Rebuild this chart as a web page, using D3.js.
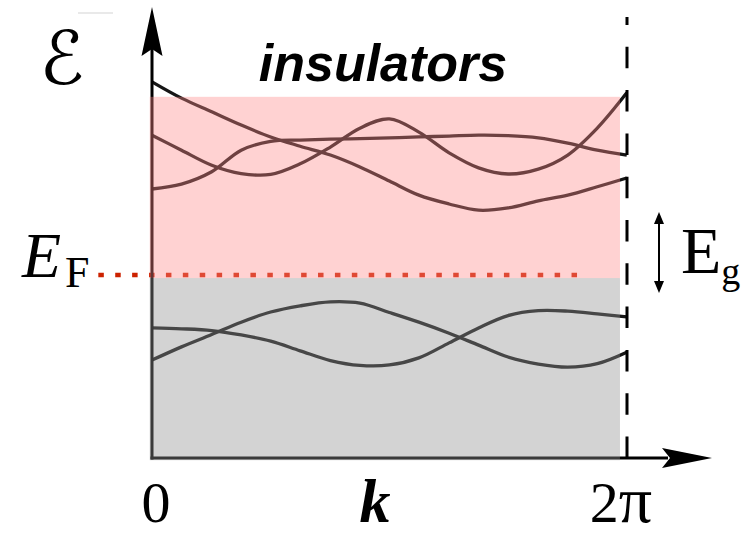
<!DOCTYPE html>
<html>
<head>
<meta charset="utf-8">
<style>
    body { margin: 0; background: #fff; }
    svg { display: block; }
</style>
</head>
<body>
<svg width="755" height="536"></svg>
<script src="https://d3js.org/d3.v7.min.js"></script>
<script>
// k points across the Brillouin zone (0 .. 2pi)
let kValues = [0, 0.39, 0.79, 1.18, 1.57, 1.96, 2.36, 2.75, 3.14, 3.53, 3.93, 4.32, 4.71, 5.11, 5.50, 5.89, 6.28];

// conduction bands (above the gap)
let bandA = [8.53, 8.16, 7.85, 7.55, 7.28, 7.07, 6.87, 6.60, 6.28, 5.96, 5.76, 5.62, 5.67, 5.83, 5.96, 6.15, 6.35];
let bandB = [7.32, 6.98, 6.64, 6.45, 6.43, 6.67, 7.05, 7.48, 7.69, 7.39, 6.92, 6.58, 6.44, 6.55, 6.87, 7.48, 8.28];
let bandC = [6.10, 6.21, 6.49, 6.98, 7.18, 7.21, 7.23, 7.24, 7.26, 7.28, 7.30, 7.32, 7.31, 7.26, 7.14, 6.98, 6.87];

// valence bands (below the gap)
let bandD = [2.95, 2.93, 2.89, 2.79, 2.65, 2.43, 2.21, 2.10, 2.11, 2.27, 2.61, 2.95, 3.23, 3.34, 3.33, 3.27, 3.20];
let bandE = [2.22, 2.52, 2.80, 3.08, 3.31, 3.45, 3.54, 3.51, 3.30, 3.08, 2.83, 2.56, 2.29, 2.13, 2.06, 2.14, 2.40];

let conductionBands = [bandA, bandB, bandC];
let valenceBands = [bandD, bandE];

let fermiLevel = 4.15;
let conductionWindow = [4.08, 8.19];
let valenceWindow = [-0.05, 4.08];
let gapArrow = [3.74, 5.58];
let shadeK = [-0.03, 6.19];
let fermiK = [-0.71, 5.77];

let svg = d3.select("svg");

let x = d3.scaleLinear().domain([0, 2 * Math.PI]).range([152, 627]);
let y = d3.scaleLinear().domain([0, 10]).range([458, 17]);

let line = d3.line()
    .x((d, i) => x(kValues[i]))
    .y(d => y(d))
    .curve(d3.curveCatmullRom.alpha(0.5));

// stray mark at top left
svg.append("line")
    .attr("x1", 78).attr("x2", 113).attr("y1", 13).attr("y2", 13)
    .attr("stroke", "#e2e2e2").attr("stroke-width", 1.5);

// Fermi level dots
svg.append("line")
    .attr("x1", x(fermiK[0])).attr("x2", x(fermiK[1]))
    .attr("y1", y(fermiLevel)).attr("y2", y(fermiLevel))
    .attr("stroke", "#cc2200")
    .attr("stroke-width", 4.5)
    .attr("stroke-dasharray", "5.5,11.4");

// bands
svg.append("g")
    .selectAll("path")
    .data(conductionBands.concat(valenceBands))
    .join("path")
    .attr("d", line)
    .attr("fill", "none")
    .attr("stroke", "#161616")
    .attr("stroke-width", 3.3);

// axes lines
svg.append("line")
    .attr("x1", x(0)).attr("x2", x(0))
    .attr("y1", y(0) + 1.5).attr("y2", 48)
    .attr("stroke", "#000").attr("stroke-width", 3);

svg.append("line")
    .attr("x1", x(0) - 1.5).attr("x2", 668)
    .attr("y1", y(0)).attr("y2", y(0))
    .attr("stroke", "#000").attr("stroke-width", 3);

// translucent band windows on top
svg.append("rect")
    .attr("x", x(shadeK[0]))
    .attr("width", x(shadeK[1]) - x(shadeK[0]))
    .attr("y", y(conductionWindow[1]))
    .attr("height", y(conductionWindow[0]) - y(conductionWindow[1]))
    .attr("fill", "#ff8888")
    .attr("fill-opacity", 0.38);

svg.append("rect")
    .attr("x", x(shadeK[0]))
    .attr("width", x(shadeK[1]) - x(shadeK[0]))
    .attr("y", y(valenceWindow[1]))
    .attr("height", y(valenceWindow[0]) - y(valenceWindow[1]))
    .attr("fill", "#919191")
    .attr("fill-opacity", 0.4);

// zone boundary at 2pi
svg.append("line")
    .attr("x1", x(2 * Math.PI)).attr("x2", x(2 * Math.PI))
    .attr("y1", y(0)).attr("y2", 17)
    .attr("stroke", "#000").attr("stroke-width", 3)
    .attr("stroke-dasharray", "21.5,21.8");

// arrow heads
svg.append("path")
    .attr("d", `M152,7 L162.5,56 L152,49 L141.5,56 Z`)
    .attr("fill", "#000");

svg.append("path")
    .attr("d", `M712,458 L662,448 L670,458 L662,468 Z`)
    .attr("fill", "#000");

// gap arrow
let gx = 659;
svg.append("line")
    .attr("x1", gx).attr("x2", gx)
    .attr("y1", y(gapArrow[1]) + 6).attr("y2", y(gapArrow[0]) - 6)
    .attr("stroke", "#000").attr("stroke-width", 2);
svg.append("path")
    .attr("d", `M${gx},${y(gapArrow[1])} L${gx + 5},${y(gapArrow[1]) + 12} L${gx - 5},${y(gapArrow[1]) + 12} Z`)
    .attr("fill", "#000");
svg.append("path")
    .attr("d", `M${gx},${y(gapArrow[0])} L${gx + 5},${y(gapArrow[0]) - 12} L${gx - 5},${y(gapArrow[0]) - 12} Z`)
    .attr("fill", "#000");

// text
svg.append("text")
    .attr("x", 62).attr("y", 84)
    .attr("text-anchor", "middle")
    .style("font-family", "'DejaVu Sans', sans-serif")
    .style("font-size", "74px")
    .text("\u2130");

svg.append("text")
    .attr("x", 383).attr("y", 81)
    .attr("text-anchor", "middle")
    .style("font-family", "'Liberation Sans', Arial, sans-serif")
    .style("font-weight", "bold")
    .style("font-style", "italic")
    .style("font-size", "52px")
    .text("insulators");

let ef = svg.append("text")
    .attr("x", 22).attr("y", 277)
    .style("font-family", "'Liberation Serif', serif");
ef.append("tspan").style("font-style", "italic").style("font-size", "64px").text("E");
ef.append("tspan").attr("dx", 4).attr("dy", 10).style("font-size", "44px").text("F");

let eg = svg.append("text")
    .attr("x", 681).attr("y", 273)
    .style("font-family", "'Liberation Serif', serif");
eg.append("tspan").style("font-size", "66px").text("E");
eg.append("tspan").attr("dy", 11).style("font-size", "38px").text("g");

svg.append("text")
    .attr("x", 156).attr("y", 522)
    .attr("text-anchor", "middle")
    .style("font-family", "'Liberation Serif', serif")
    .style("font-size", "58px")
    .text("0");

svg.append("text")
    .attr("x", 375).attr("y", 522)
    .attr("text-anchor", "middle")
    .style("font-family", "'Liberation Serif', serif")
    .style("font-weight", "bold")
    .style("font-style", "italic")
    .style("font-size", "62px")
    .text("k");

let tp = svg.append("text")
    .attr("x", 621).attr("y", 522)
    .attr("text-anchor", "middle")
    .style("font-family", "'Liberation Serif', serif")
    .style("font-size", "58px");
tp.append("tspan").text("2");
tp.append("tspan").style("font-size", "66px").text("\u03c0");
</script>
</body>
</html>
